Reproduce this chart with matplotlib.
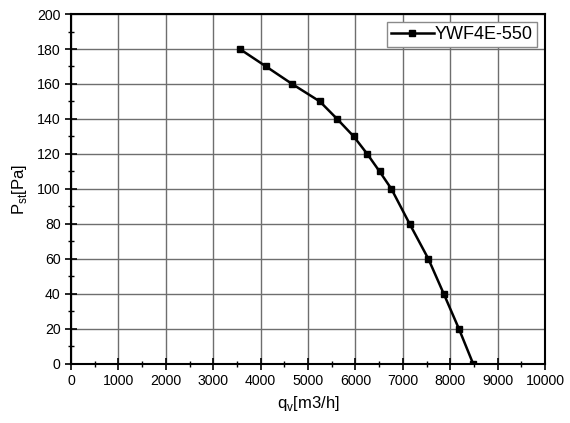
import matplotlib
matplotlib.use("Agg")
import matplotlib.pyplot as plt
from matplotlib.ticker import MultipleLocator

plt.rcParams['font.family'] = ['Liberation Sans', 'DejaVu Sans']

# fan curve
flow = [3560, 4115, 4665, 5250, 5615, 5965, 6250, 6510, 6760, 7145, 7540, 7865, 8185, 8485]
pressure = [180, 170, 160, 150, 140, 130, 120, 110, 100, 80, 60, 40, 20, 0]
series_name = "YWF4E-550"

fig = plt.figure(figsize=(5.7, 4.23), dpi=100)
ax = fig.add_axes([0.1246, 0.1395, 0.8316, 0.8274])

ax.plot(flow, pressure, color='black', lw=1.8, marker='s', ms=5, label=series_name)

ax.set_xlim(0, 10000)
ax.set_ylim(0, 200)
ax.xaxis.set_major_locator(MultipleLocator(1000))
ax.xaxis.set_minor_locator(MultipleLocator(500))
ax.yaxis.set_major_locator(MultipleLocator(20))
ax.yaxis.set_minor_locator(MultipleLocator(10))
ax.grid(which='major', color='#6e6e6e', lw=1.0)
ax.set_axisbelow(True)

ax.tick_params(which='major', direction='inout', length=8, width=1.2, labelsize=10.2, color='black')
ax.tick_params(which='minor', direction='inout', length=5, width=1.0)
ax.tick_params(top=False, right=False)
for s in ax.spines.values():
    s.set_linewidth(1.5)

ax.set_xlabel(r"q$_{\mathregular{v}}$[m3/h]", fontsize=12, labelpad=4)
ax.set_ylabel(r"P$_{\mathregular{st}}$[Pa]", fontsize=12, labelpad=6)

leg = ax.legend(loc='upper right', fontsize=13, handlelength=2.4, handletextpad=0.05,
                borderpad=0.22, borderaxespad=0, fancybox=False, framealpha=1,
                edgecolor='#8a8a8a', bbox_to_anchor=(0.983, 0.977))
leg.get_frame().set_linewidth(1.0)

fig.savefig("out.png", dpi=100)
